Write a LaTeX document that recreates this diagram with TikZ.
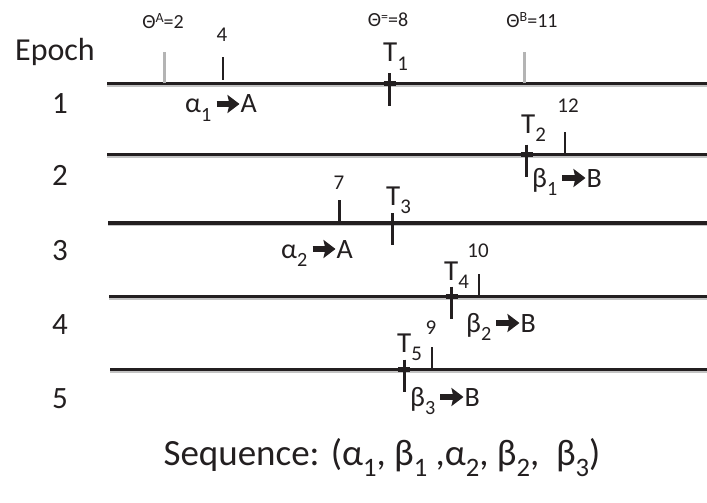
\documentclass[tikz,border=0pt]{standalone}
\usepackage{fontspec}
\setmainfont{Carlito}
\usepackage{graphicx}
\usepackage{xcolor}
\usepackage{tikz}
\usetikzlibrary{arrows.meta,positioning}
\definecolor{ink}{RGB}{35,31,32}
\definecolor{shade}{RGB}{195,195,195}
\definecolor{thgray}{RGB}{180,180,180}
\tikzset{
  epochline/.style={line width=3.2pt, draw=ink},
  lineshade/.style={line width=2pt, draw=shade},
  crosstick/.style={line width=2.6pt, draw=ink},
  valtick/.style={line width=2.4pt, draw=ink},
  thtick/.style={line width=3pt, draw=thgray},
  rowlbl/.style={inner sep=0pt, text=ink, font=\fontsize{31}{31}\selectfont},
  thlbl/.style={inner sep=0pt, text=ink, font=\fontsize{20}{20}\selectfont},
  vallbl/.style={inner sep=0pt, text=ink, font=\fontsize{21}{21}\selectfont},
  tlbl/.style={inner sep=0pt, text=ink, anchor=base west, font=\fontsize{29}{29}\selectfont},
  asgn/.style={inner sep=0pt, text=ink, anchor=base west, font=\fontsize{28}{28}\selectfont},
  heavyarr/.style={draw=ink, line width=5.6pt,
    -{Stealth[length=12pt, width=18pt, inset=2pt]}},
}
\newcommand{\lo}[1]{\raisebox{-.3em}{\scalebox{.72}{#1}}}
\newcommand{\hi}[1]{\raisebox{.26em}{\scalebox{.7}{#1}}}

\begin{document}
\begin{tikzpicture}[x=1pt, y=-1pt]
  \useasboundingbox (0,0) rectangle (707,503);

  % epoch numbers
  \node[rowlbl, font=\fontsize{32}{32}\selectfont] (epoch) at (55,52) {Epoch};
  \node[rowlbl] (r1) at (60,104) {1};
  \node[rowlbl] (r2) at (60,175) {2};
  \node[rowlbl] (r3) at (60,251) {3};
  \node[rowlbl] (r4) at (60,325) {4};
  \node[rowlbl] (r5) at (60,399) {5};

  % time lines
  \coordinate (a1) at (107,83.5);  \coordinate (b1) at (707,83.5);
  \coordinate (a2) at (107,154.5); \coordinate (b2) at (707,154.5);
  \coordinate (a3) at (108,223);   \coordinate (b3) at (707,223);
  \coordinate (a4) at (109,296.5); \coordinate (b4) at (707,296.5);
  \coordinate (a5) at (110,369.5); \coordinate (b5) at (707,369.5);
  \foreach \i in {1,...,5} {
    \draw[lineshade] ([yshift=-2.2pt]a\i) -- ([yshift=-2.2pt]b\i);
    \draw[epochline] (a\i) -- (b\i);
  }

  % thresholds
  \coordinate (thA) at (164.5,83.5);
  \coordinate (thB) at (524,83.5);
  \draw[thtick] (thA) -- ++(0,-31);
  \draw[thtick] (thB) -- ++(0,-31);
  \node[thlbl] (lthA) at (163,21) {Θ\hi{A}=2};
  \node[thlbl] (lthE) at (388,20) {Θ\hi{=}=8};
  \node[thlbl] (lthB) at (532,20) {Θ\hi{B}=11};

  % values
  \coordinate (v1) at (222.7,80);
  \coordinate (v2) at (565,154.5);
  \coordinate (v3) at (339.3,223);
  \coordinate (v4) at (479,296.5);
  \coordinate (v5) at (431.7,369.5);
  \draw[valtick] (v1) -- ++(0,-23);
  \foreach \i in {2,...,5} {
    \draw[valtick] (v\i) -- ++(0,-23);
    \draw[line width=3.8pt, draw=ink] ([xshift=-6pt]v\i) -- ([xshift=6pt]v\i);
  }
  \node[vallbl] (n1) at (222,35) {4};
  \node[vallbl] (n2) at (568,106) {12};
  \node[vallbl] (n3) at (339,183) {7};
  \node[vallbl] (n4) at (478,251) {10};
  \node[vallbl] (n5) at (431,328) {9};

  % crossing times
  \coordinate (c1) at (389.5,83.5);
  \coordinate (c2) at (526.5,154.5);
  \coordinate (c3) at (392.3,223);
  \coordinate (c4) at (451.7,296.5);
  \coordinate (c5) at (404.3,369.5);
  \foreach \i in {1,...,5} {
    \draw[crosstick] ([yshift=10pt]c\i) -- ([yshift=-22pt]c\i);
    \draw[line width=4.2pt, draw=ink] ([xshift=-6pt]c\i) -- ([xshift=6pt]c\i);
  }
  \node[tlbl] (t1) at (383,62) {T\lo{1}};
  \node[tlbl] (t2) at (521,133) {T\lo{2}};
  \node[tlbl] (t3) at (386,205) {T\lo{3}};
  \node[tlbl] (t4) at (444,280) {T\lo{4}};
  \node[tlbl] (t5) at (397,352) {T\lo{5}};

  % assignments
  \node[asgn] (s1) at (185,113) {α\lo{1}};
  \node[asgn] (s2) at (532,187) {β\lo{1}};
  \node[asgn] (s3) at (281,258) {α\lo{2}};
  \node[asgn] (s4) at (466,332) {β\lo{2}};
  \node[asgn] (s5) at (410,406) {β\lo{3}};
  \node[asgn, base right=29pt of s1] (g1) {A};
  \node[asgn, base right=29pt of s2] (g2) {B};
  \node[asgn, base right=29pt of s3] (g3) {A};
  \node[asgn, base right=29pt of s4] (g4) {B};
  \node[asgn, base right=29pt of s5] (g5) {B};
  \foreach \i in {1,...,5}
    \draw[heavyarr] ([xshift=5pt, yshift=9pt]s\i.base east)
      -- ([xshift=-1pt, yshift=9pt]g\i.base west);

  \node[inner sep=0pt, text=ink, font=\fontsize{37}{37}\selectfont] (seq) at (382,458)
    {Sequence: (α\lo{1}, β\lo{1} ,α\lo{2}, β\lo{2}, \ β\lo{3})};
\end{tikzpicture}
\end{document}
